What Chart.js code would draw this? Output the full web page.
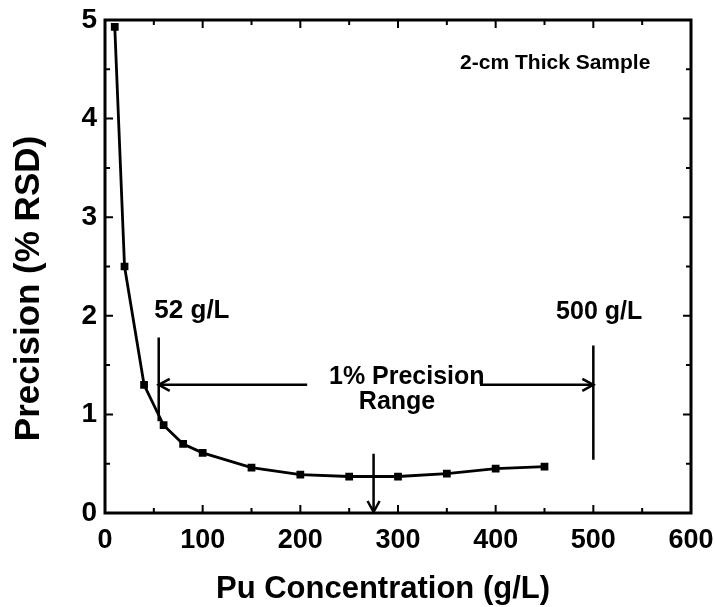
<!DOCTYPE html>
<html lang="en">
<head>
    <meta charset="UTF-8">
    <title>Precision vs Pu Concentration</title>
    <script src="https://cdn.jsdelivr.net/npm/chart.js"></script>
    <style>
        body { margin: 0; background: #fff; }
        .chart-box { width: 715px; height: 607px; }
    </style>
</head>
<body>
    <div class="chart-box">
        <canvas id="precision-graph"></canvas>
    </div>

    <script>
        // data
        const concentration = [10, 20, 40, 60, 80, 100, 150, 200, 250, 300, 350, 400, 450];
        const precision = [4.93, 2.5, 1.3, 0.89, 0.70, 0.61, 0.46, 0.39, 0.37, 0.37, 0.40, 0.45, 0.47];

        const xTicks = [0, 100, 200, 300, 400, 500, 600];
        const yTicks = [0, 1, 2, 3, 4, 5];

        // annotation positions in data units
        const lowLimit = 55;
        const highLimit = 500;
        const arrowLevel = 1.3;
        const midArrowX = 275;

        const textFont = "'Liberation Sans', Arial, Helvetica, sans-serif";

        function arrowHead(ctx, x, y, dir) {
            const len = 11, half = 6;
            ctx.beginPath();
            if (dir === 'left') {
                ctx.moveTo(x + len, y - half); ctx.lineTo(x, y); ctx.lineTo(x + len, y + half);
            } else if (dir === 'right') {
                ctx.moveTo(x - len, y - half); ctx.lineTo(x, y); ctx.lineTo(x - len, y + half);
            } else {
                ctx.moveTo(x - half, y - len); ctx.lineTo(x, y); ctx.lineTo(x + half, y - len);
            }
            ctx.stroke();
        }

        const framePlugin = {
            id: 'frame',
            afterDraw(chart) {
                const ctx = chart.ctx;
                const a = chart.chartArea;
                const xs = chart.scales.x, ys = chart.scales.y;
                ctx.save();
                ctx.strokeStyle = '#000';
                ctx.fillStyle = '#000';

                // box
                ctx.lineWidth = 3;
                ctx.strokeRect(a.left, a.top, a.right - a.left, a.bottom - a.top);

                // inward ticks, all four sides
                ctx.lineWidth = 2;
                for (let v = 0; v <= 600; v += 50) {
                    const px = xs.getPixelForValue(v);
                    const len = v % 100 === 0 ? 8 : 5;
                    ctx.beginPath();
                    ctx.moveTo(px, a.bottom); ctx.lineTo(px, a.bottom - len);
                    ctx.moveTo(px, a.top); ctx.lineTo(px, a.top + len);
                    ctx.stroke();
                }
                for (let v = 0; v <= 5; v += 0.5) {
                    const py = ys.getPixelForValue(v);
                    const len = v % 1 === 0 ? 8 : 5;
                    ctx.beginPath();
                    ctx.moveTo(a.left, py); ctx.lineTo(a.left + len, py);
                    ctx.moveTo(a.right, py); ctx.lineTo(a.right - len, py);
                    ctx.stroke();
                }

                // limit lines and arrows
                ctx.lineWidth = 2.5;
                const lx = xs.getPixelForValue(lowLimit);
                const hx = xs.getPixelForValue(highLimit);
                const ay = ys.getPixelForValue(arrowLevel);
                ctx.beginPath();
                ctx.moveTo(lx, ys.getPixelForValue(1.78)); ctx.lineTo(lx, ys.getPixelForValue(0.93));
                ctx.moveTo(hx, ys.getPixelForValue(1.70)); ctx.lineTo(hx, ys.getPixelForValue(0.54));
                ctx.moveTo(xs.getPixelForValue(207), ay); ctx.lineTo(lx, ay);
                ctx.moveTo(xs.getPixelForValue(384), ay); ctx.lineTo(hx, ay);
                const mx = xs.getPixelForValue(midArrowX);
                ctx.moveTo(mx, ys.getPixelForValue(0.6)); ctx.lineTo(mx, ys.getPixelForValue(0));
                ctx.stroke();
                arrowHead(ctx, lx, ay, 'left');
                arrowHead(ctx, hx, ay, 'right');
                arrowHead(ctx, mx, ys.getPixelForValue(0) - 1, 'down');

                // labels
                ctx.textAlign = 'center';
                ctx.textBaseline = 'middle';
                ctx.font = 'bold 26px ' + textFont;
                ctx.fillText('52 g/L', xs.getPixelForValue(89), ys.getPixelForValue(2.05));
                ctx.font = 'bold 25px ' + textFont;
                ctx.fillText('500 g/L', xs.getPixelForValue(506), ys.getPixelForValue(2.04));
                ctx.font = 'bold 25px ' + textFont;
                ctx.fillText('1% Precision', xs.getPixelForValue(309), ys.getPixelForValue(1.38));
                ctx.fillText('Range', xs.getPixelForValue(299), ys.getPixelForValue(1.12));
                ctx.font = 'bold 21px ' + textFont;
                ctx.fillText('2-cm Thick Sample', xs.getPixelForValue(461), ys.getPixelForValue(4.56));

                // axis titles
                ctx.font = 'bold 31px ' + textFont;
                ctx.textBaseline = 'alphabetic';
                ctx.fillText('Pu Concentration (g/L)', (a.left + a.right) / 2 - 15, 598);
                ctx.save();
                ctx.translate(39, (a.top + a.bottom) / 2 + 22);
                ctx.rotate(-Math.PI / 2);
                ctx.font = 'bold 35px ' + textFont;
                ctx.fillText('Precision (% RSD)', 0, 0);
                ctx.restore();

                ctx.restore();
            }
        };

        const ctx = document.getElementById('precision-graph').getContext('2d');
        const precisionChart = new Chart(ctx, {
            type: 'line',
            data: {
                datasets: [{
                    data: concentration.map((c, i) => ({ x: c, y: precision[i] })),
                    borderColor: '#000',
                    backgroundColor: '#000',
                    borderWidth: 2.8,
                    pointStyle: 'rect',
                    pointRadius: 3.5,
                    tension: 0
                }]
            },
            options: {
                responsive: true,
                maintainAspectRatio: false,
                animation: false,
                layout: { padding: { top: 20, right: 24, left: 0, bottom: 0 } },
                plugins: { legend: { display: false }, tooltip: { enabled: false } },
                scales: {
                    x: {
                        type: 'linear', min: 0, max: 600,
                        afterBuildTicks: s => { s.ticks = xTicks.map(v => ({ value: v })); },
                        afterFit: s => { s.height = 94; s.paddingLeft = 0; s.paddingRight = 0; },
                        grid: { display: false, drawTicks: false },
                        border: { display: false },
                        ticks: { color: '#000', padding: 11, maxRotation: 0, font: { family: textFont, size: 27, weight: 'bold' } }
                    },
                    y: {
                        type: 'linear', min: 0, max: 5,
                        afterBuildTicks: s => { s.ticks = yTicks.map(v => ({ value: v })); },
                        afterFit: s => { s.width = 105; s.paddingTop = 0; s.paddingBottom = 0; },
                        grid: { display: false, drawTicks: false },
                        border: { display: false },
                        ticks: { color: '#000', padding: 8, font: { family: textFont, size: 28, weight: 'bold' } }
                    }
                }
            },
            plugins: [framePlugin]
        });
    </script>
</body>
</html>
